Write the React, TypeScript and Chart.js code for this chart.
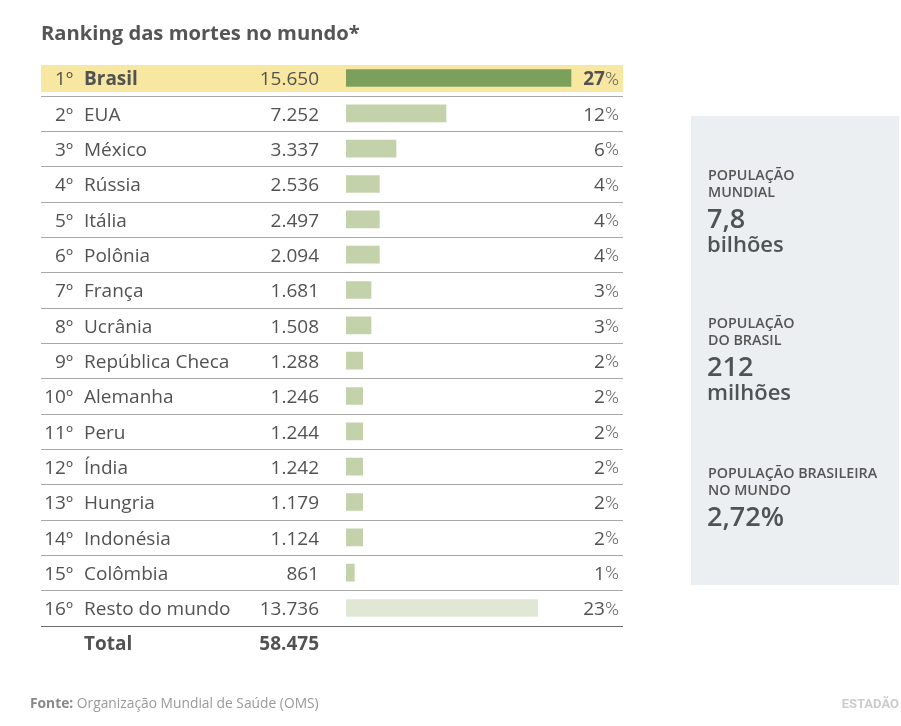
import React, { useEffect, useRef } from "react";
import { Chart, registerables } from "chart.js";

Chart.register(...registerables);

const ranks = ["1º", "2º", "3º", "4º", "5º", "6º", "7º", "8º", "9º", "10º", "11º", "12º", "13º", "14º", "15º", "16º"];
const countries = ["Brasil", "EUA", "México", "Rússia", "Itália", "Polônia", "França", "Ucrânia", "República Checa", "Alemanha", "Peru", "Índia", "Hungria", "Indonésia", "Colômbia", "Resto do mundo"];
const deaths = [15650, 7252, 3337, 2536, 2497, 2094, 1681, 1508, 1288, 1246, 1244, 1242, 1179, 1124, 861, 13736];
const shares = [27, 12, 6, 4, 4, 4, 3, 3, 2, 2, 2, 2, 2, 2, 1, 23];
const totalLabel = "Total";
const totalDeaths = 58475;

const titleText = "Ranking das mortes no mundo*";
const panelItems = [
  { label: ["POPULAÇÃO", "MUNDIAL"], value: ["7,8", "bilhões"] },
  { label: ["POPULAÇÃO", "DO BRASIL"], value: ["212", "milhões"] },
  { label: ["POPULAÇÃO BRASILEIRA", "NO MUNDO"], value: ["2,72%"] },
];
const sourceBold = "Fonte:";
const sourceText = "Organização Mundial de Saúde (OMS)";
const brandText = "ESTADÃO";

const FONT = "'Open Sans', Roboto, sans-serif";
const FONT2 = "Roboto, sans-serif";
const TEXT = "#525252";

function fmt(n: number): string {
  return String(n).replace(/\B(?=(\d{3})+(?!\d))/g, ".");
}

const tablePlugin = {
  id: "tablePlugin",
  beforeDatasetsDraw(chart: any) {
    const ctx = chart.ctx;
    const y = chart.scales.y;
    const n = countries.length;
    const step = y.getPixelForValue(1) - y.getPixelForValue(0);
    ctx.save();
    ctx.fillStyle = "#eceff1";
    ctx.fillRect(691, 116, 208, 469);
    const c0 = y.getPixelForValue(0);
    ctx.fillStyle = "#f7e7a1";
    ctx.fillRect(41, c0 - 13, 582, 27);
    for (let i = 0; i < n; i++) {
      const ly = Math.round(y.getPixelForValue(i) + step / 2) + 0.5;
      ctx.strokeStyle = i === n - 1 ? "#6f6f6f" : "#a8a8a8";
      ctx.lineWidth = 1;
      ctx.beginPath();
      ctx.moveTo(41, ly);
      ctx.lineTo(623, ly);
      ctx.stroke();
    }
    ctx.restore();
  },
  afterDatasetsDraw(chart: any) {
    const ctx = chart.ctx;
    const y = chart.scales.y;
    const n = countries.length;
    const step = y.getPixelForValue(1) - y.getPixelForValue(0);
    ctx.save();
    ctx.textBaseline = "middle";
    for (let i = 0; i < n; i++) {
      const cy = y.getPixelForValue(i) + 2;
      const bold = i === 0;
      ctx.fillStyle = TEXT;
      ctx.font = `400 19px ${FONT}`;
      ctx.textAlign = "right";
      ctx.fillText(ranks[i], 73, cy);
      ctx.textAlign = "left";
      ctx.font = `${bold ? 700 : 400} 19px ${FONT}`;
      ctx.fillText(countries[i], 84, cy);
      ctx.font = `400 19px ${FONT}`;
      ctx.textAlign = "right";
      ctx.fillText(fmt(deaths[i]), 319, cy);
      ctx.font = `300 19px ${FONT2}`;
      ctx.fillStyle = "#666666";
      const pw = ctx.measureText("%").width;
      ctx.fillText("%", 619, cy);
      ctx.font = `${bold ? 700 : 500} 19px ${FONT}`;
      ctx.fillStyle = TEXT;
      ctx.fillText(String(shares[i]), 619 - pw, cy);
    }
    const ty = y.getPixelForValue(n - 1) + step + 1;
    ctx.font = `700 19px ${FONT}`;
    ctx.textAlign = "left";
    ctx.fillText(totalLabel, 84, ty);
    ctx.textAlign = "right";
    ctx.fillText(fmt(totalDeaths), 319, ty);

    ctx.textBaseline = "alphabetic";
    ctx.textAlign = "left";
    ctx.fillStyle = "#555555";
    ctx.font = `700 20.2px ${FONT}`;
    ctx.fillText(titleText, 41, 40);

    const tops = [170, 318, 468];
    panelItems.forEach((it, k) => {
      const t = tops[k];
      ctx.fillStyle = "#555555";
      ctx.font = `600 14.3px ${FONT}`;
      it.label.forEach((l, j) => ctx.fillText(l, 708, t + 10 + j * 16.5));
      ctx.fillStyle = "#4f5355";
      ctx.font = `600 27px ${FONT}`;
      ctx.fillText(it.value[0], 707, t + 58);
      if (it.value[1]) {
        ctx.font = `600 22px ${FONT}`;
        ctx.fillText(it.value[1], 707, t + 82);
      }
    });

    ctx.font = `700 13.8px ${FONT}`;
    ctx.fillStyle = "#888888";
    ctx.fillText(sourceBold, 30, 708);
    const fw = ctx.measureText(sourceBold + " ").width;
    ctx.font = `400 13.8px ${FONT}`;
    ctx.fillStyle = "#999999";
    ctx.fillText(sourceText, 30 + fw, 708);
    ctx.font = `700 13px ${FONT2}`;
    ctx.fillStyle = "#cccccc";
    ctx.textAlign = "right";
    ctx.fillText(brandText, 899, 708);
    ctx.restore();
  },
};

export default function App() {
  const ref = useRef<HTMLCanvasElement | null>(null);
  useEffect(() => {
    if (!ref.current) return;
    const colors = countries.map((_, i) => (i === 0 ? "#7ba05b" : i === countries.length - 1 ? "#e0e7d5" : "#c4d2ab"));
    const chart = new Chart(ref.current, {
      type: "bar",
      data: {
        labels: countries,
        datasets: [{ data: shares, backgroundColor: colors, barThickness: 17, borderWidth: 0 }],
      },
      options: {
        indexAxis: "y",
        responsive: false,
        animation: false,
        layout: { padding: { left: 346, right: 280, top: 60.33, bottom: 100.33 } },
        scales: {
          x: { display: false, min: 0, max: 33 },
          y: { display: false, offset: true },
        },
        plugins: { legend: { display: false }, tooltip: { enabled: false } },
      },
      plugins: [tablePlugin],
    } as any);
    return () => chart.destroy();
  }, []);
  return (
    <div style={{ position: "absolute", left: 0, top: 0, width: 901, height: 726, background: "#fff" }}>
      <canvas ref={ref} width={901} height={726} style={{ display: "block" }} />
    </div>
  );
}
